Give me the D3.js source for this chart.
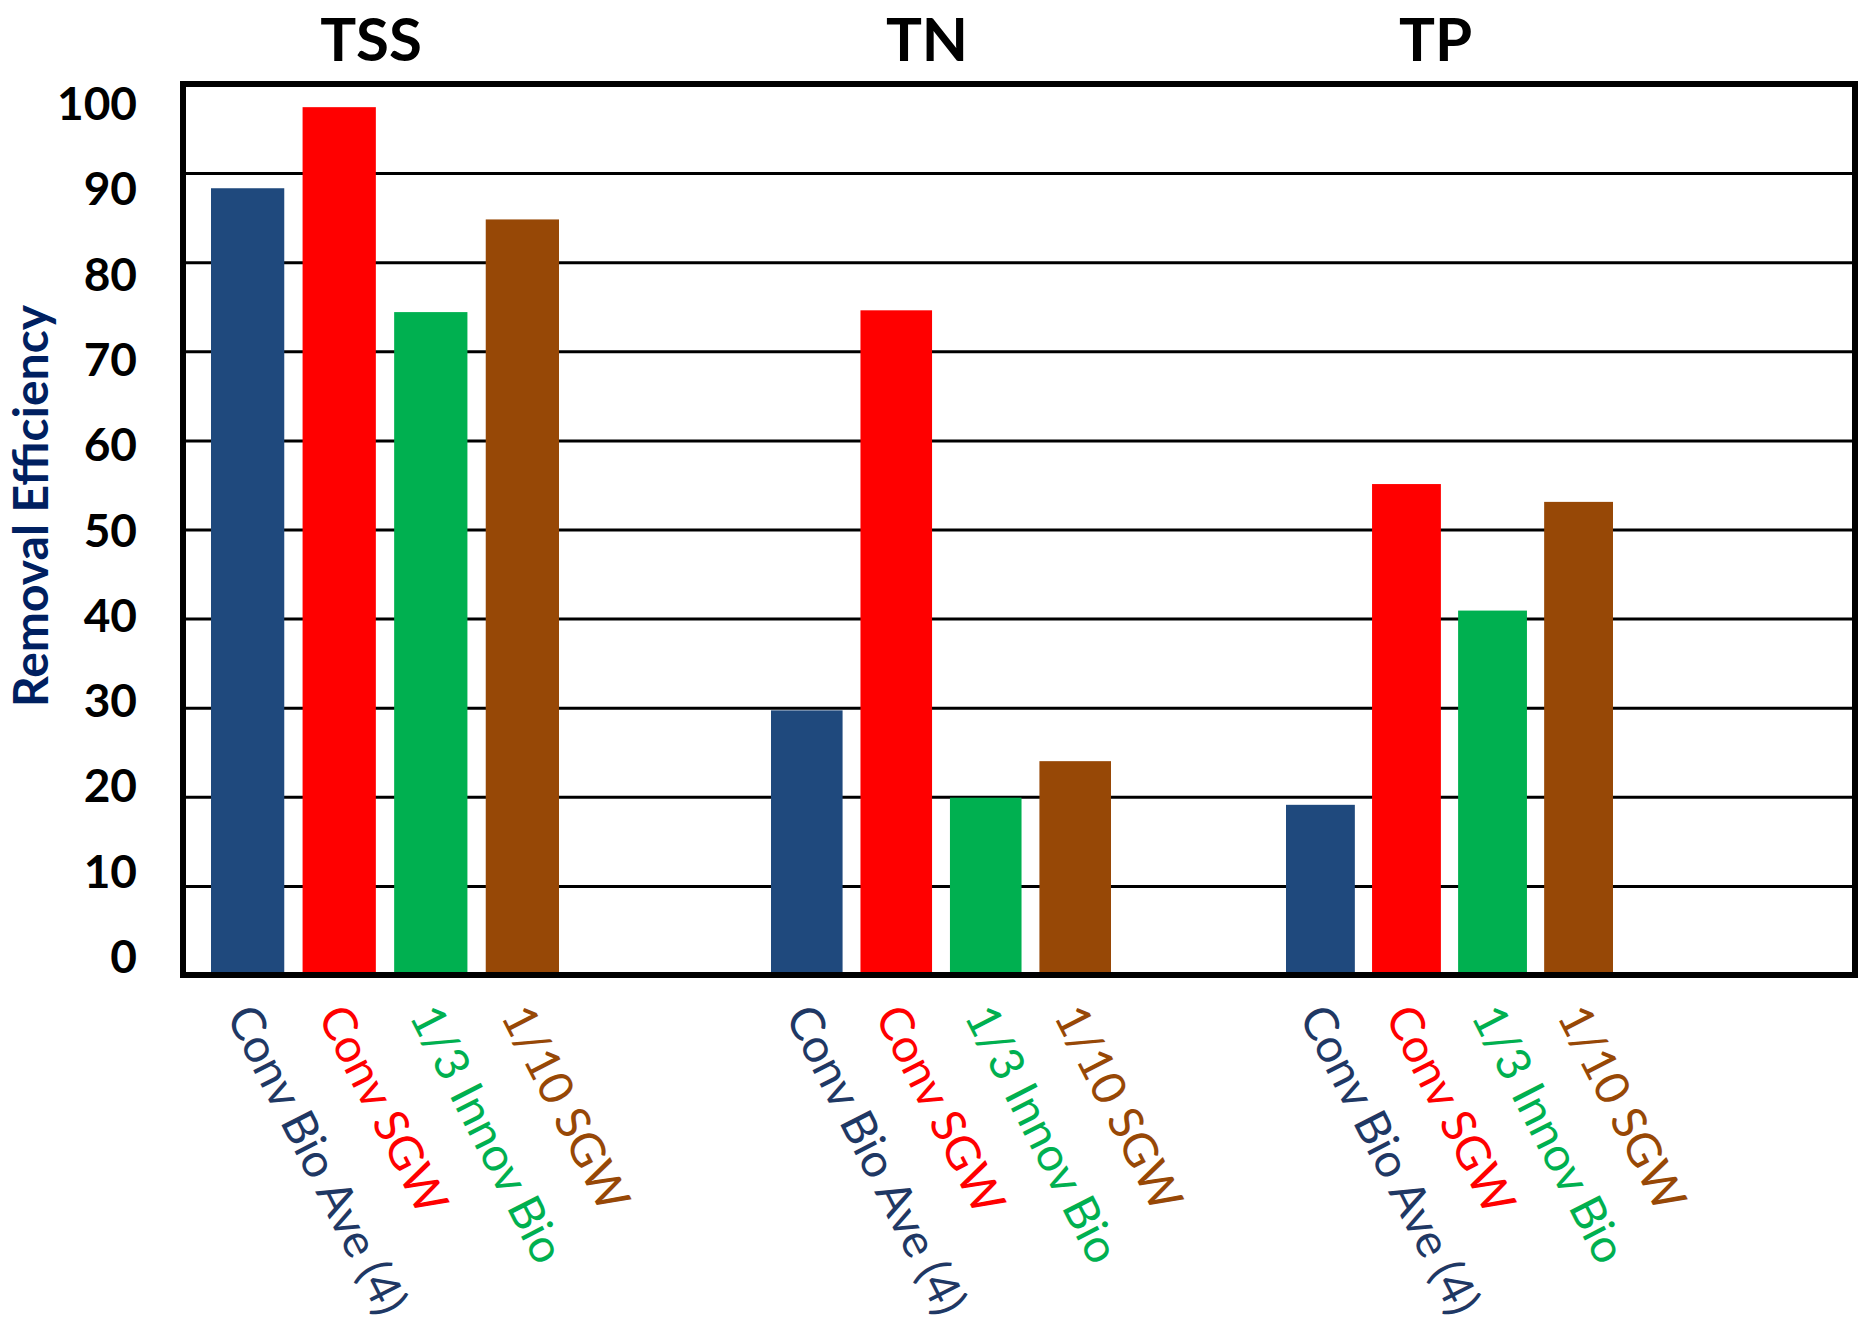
<!DOCTYPE html>
<html>
<head>
<meta charset="utf-8">
<script src="https://cdn.jsdelivr.net/npm/d3@7"></script>
<style>
  html, body { margin: 0; padding: 0; background: #ffffff; }
  svg { display: block; }
</style>
</head>
<body>
<svg id="chart" width="1864" height="1332"></svg>
<script>
// Parameters measured in each group
const groups = ["TSS", "TN", "TP"];
const series = ["Conv Bio Ave (4)", "Conv SGW", "1/3 Innov Bio", "1/10 SGW"];

// Removal efficiency (%) per series, in group order TSS, TN, TP
const convBioAve = [88.3, 29.7, 19.1];
const convSGW = [97.4, 74.6, 55.1];
const innovBioThird = [74.4, 19.9, 40.9];
const sgwTenth = [84.8, 24.0, 53.1];

const yTicks = [0, 10, 20, 30, 40, 50, 60, 70, 80, 90, 100];
const yTitle = "Removal Efficiency";

const seriesValues = [convBioAve, convSGW, innovBioThird, sgwTenth];
const seriesColors = ["#1F497D", "#FF0000", "#00B050", "#974806"];
const labelColors = ["#1F3864", "#FF0000", "#00B050", "#974806"];

const svg = d3.select("#chart");
const fontFamily = "Lato, 'Open Sans', 'Liberation Sans', sans-serif";

// Plot frame
const plot = { left: 183, top: 84, right: 1855, bottom: 975 };

const y = d3.scaleLinear().domain([0, 100]).range([plot.bottom, plot.top]);
// Tick labels sit on a slightly tighter scale than the grid
const yLabel = d3.scaleLinear().domain([0, 100]).range([956, 103]);

// Each parameter is laid out as its own panel along the shared frame
const panelSpan = d3.scaleOrdinal()
  .domain(groups)
  .range([[211, 559], [771, 1111], [1286, 1613]]);
const barX = Object.fromEntries(groups.map(g =>
  [g, d3.scaleBand().domain(series).range(panelSpan(g)).paddingInner(0.2)]
));
const panelCenter = g => (panelSpan(g)[0] + panelSpan(g)[1]) / 2;

// Horizontal grid lines
const grid = svg.append("g")
  .attr("transform", `translate(${plot.left},0)`)
  .call(d3.axisLeft(y)
    .tickValues(yTicks.filter(v => v > 0 && v < 100))
    .tickSize(-(plot.right - plot.left))
    .tickFormat(""));
grid.select(".domain").remove();
grid.selectAll(".tick line")
  .attr("stroke", "#000")
  .attr("stroke-width", 3);

// Bars
const rows = [];
series.forEach((s, i) => {
  groups.forEach((g, j) => {
    rows.push({ group: g, series: s, value: seriesValues[i][j], idx: i });
  });
});

svg.append("g")
  .selectAll("rect")
  .data(rows)
  .join("rect")
  .attr("x", d => barX[d.group](d.series))
  .attr("y", d => y(d.value))
  .attr("width", d => barX[d.group].bandwidth())
  .attr("height", d => y(0) - y(d.value))
  .attr("fill", d => seriesColors[d.idx]);

// Frame
svg.append("rect")
  .attr("x", plot.left)
  .attr("y", plot.top)
  .attr("width", plot.right - plot.left)
  .attr("height", plot.bottom - plot.top)
  .attr("fill", "none")
  .attr("stroke", "#000")
  .attr("stroke-width", 6);

// Y tick labels
const yAxis = svg.append("g")
  .attr("transform", `translate(137,0)`)
  .call(d3.axisLeft(yLabel).tickValues(yTicks).tickSize(0).tickPadding(0));
yAxis.select(".domain").remove();
yAxis.selectAll(".tick text")
  .attr("font-family", fontFamily)
  .attr("font-weight", 700)
  .attr("font-size", 46)
  .attr("fill", "#000")
  .attr("text-anchor", "end")
  .attr("dy", "0.36em");

// Y axis title
svg.append("text")
  .attr("transform", `translate(48,506) rotate(-90)`)
  .attr("text-anchor", "middle")
  .attr("font-family", fontFamily)
  .attr("font-weight", 700)
  .attr("font-size", 48)
  .attr("fill", "#002060")
  .text(yTitle);

// Panel titles
svg.append("g")
  .selectAll("text")
  .data(groups)
  .join("text")
  .attr("x", d => panelCenter(d) - 14)
  .attr("y", 61)
  .attr("text-anchor", "middle")
  .attr("font-family", fontFamily)
  .attr("font-weight", 700)
  .attr("font-size", 60)
  .attr("fill", "#000")
  .text(d => d);

// Rotated series labels under each bar
svg.append("g")
  .selectAll("text")
  .data(rows)
  .join("text")
  .attr("transform", d => {
    const sc = barX[d.group];
    const cx = sc(d.series) + sc.bandwidth() / 2 - 22;
    return `translate(${cx},1016) rotate(63)`;
  })
  .attr("text-anchor", "start")
  .attr("font-family", fontFamily)
  .attr("font-weight", 400)
  .attr("font-size", 47)
  .attr("fill", d => labelColors[d.idx])
  .text(d => d.series);
</script>
</body>
</html>
